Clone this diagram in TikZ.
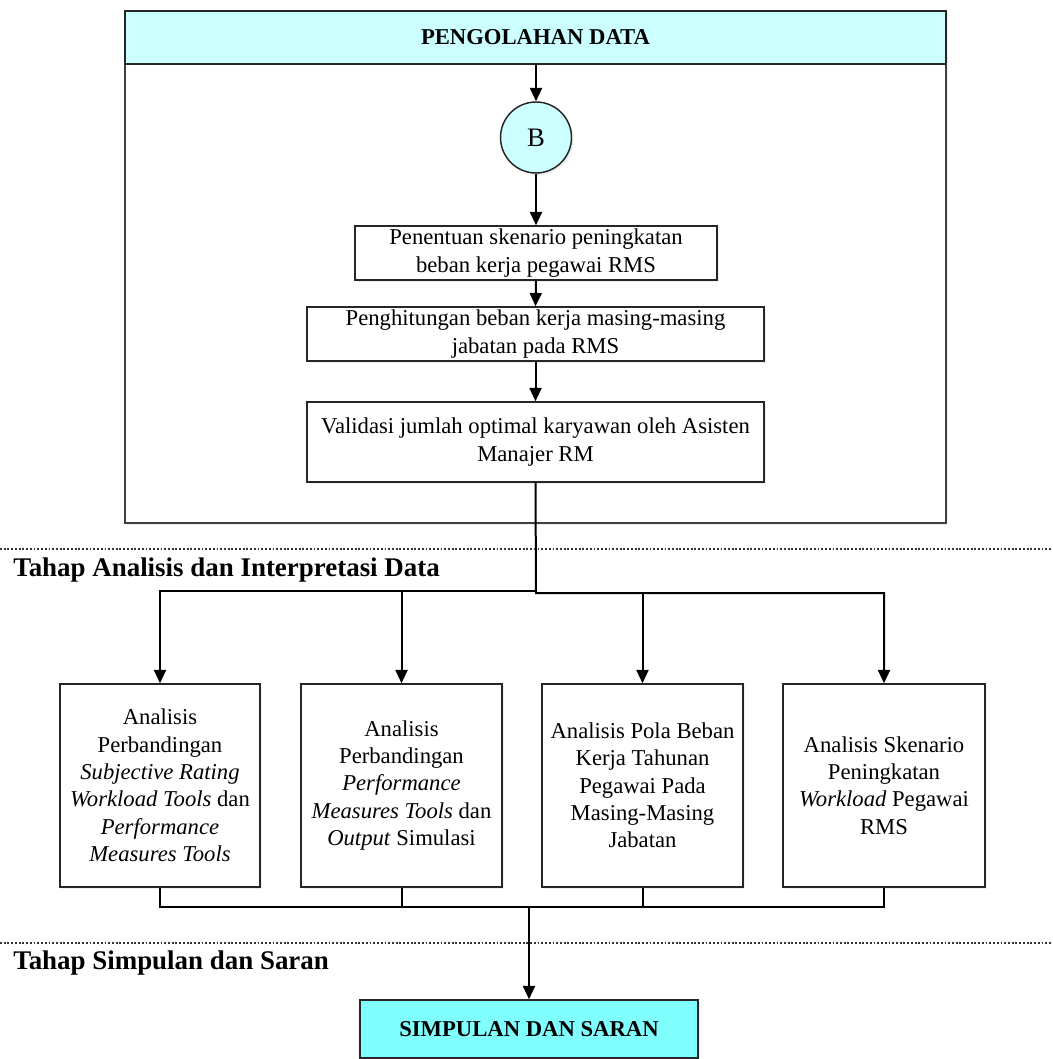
\documentclass[tikz,border=0pt]{standalone}
\usepackage{fontspec}
\setmainfont{Liberation Serif}
\usetikzlibrary{arrows.meta,shadows}
\definecolor{lightcyan}{HTML}{CCFFFF}
\definecolor{brightcyan}{HTML}{80FFFF}
\newcommand\pxu{0.75pt}
\newcommand\boxfont{\fontsize{17pt}{20.5pt}\selectfont}
\newcommand\titlefont{\fontsize{17pt}{20pt}\selectfont\bfseries}
\newcommand\stagefont{\fontsize{20.2pt}{24pt}\selectfont\bfseries}
\newcommand\circfont{\fontsize{20pt}{24pt}\selectfont}
\tikzset{
  x=0.75pt, y=-0.75pt,
  softshadow/.style={drop shadow={opacity=0.13, shadow xshift=1.5pt, shadow yshift=-1.5pt}},
  procbox/.style={draw=black!85, line width=1.1pt, fill=white, softshadow, align=center,
    font=\boxfont, inner sep=0pt},
  framebox/.style={draw=black!75, line width=1.1pt, inner sep=0pt, softshadow, fill=white},
  headband/.style={draw=black!85, line width=1.1pt, fill=lightcyan, inner sep=0pt, font=\titlefont},
  conn/.style={draw=black, line width=1.5pt},
  arr/.style={conn, -{Triangle[length=10pt,width=9pt]}},
  sep/.style={draw=black!80, line width=1.2pt, dash pattern=on 1.4pt off 1.4pt},
  stagelabel/.style={anchor=west, inner sep=0pt, font=\stagefont},
}
\begin{document}
\begin{tikzpicture}
\useasboundingbox (0,0) rectangle (1052,1059);
% container frame and its header band
\node[framebox, minimum width=821*\pxu, minimum height=512*\pxu] (frame) at (535.5,267) {};
\node[headband, minimum width=821*\pxu, minimum height=53*\pxu] (head) at (535.5,37.5) {PENGOLAHAN DATA};
% connector circle
\node[circle, draw=black!85, line width=1.1pt, fill=lightcyan, minimum size=71*\pxu, inner sep=0pt,
  softshadow, font=\circfont] (B) at (536,137.5) {B};
% process boxes inside frame
\node[procbox, minimum width=362*\pxu, minimum height=54*\pxu] (p1) at (536,253)
  {Penentuan skenario peningkatan\\beban kerja pegawai RMS};
\node[procbox, minimum width=457*\pxu, minimum height=54*\pxu] (p2) at (535.5,334)
  {Penghitungan beban kerja masing-masing\\jabatan pada RMS};
\node[procbox, minimum width=457*\pxu, minimum height=80*\pxu] (p3) at (535.5,442)
  {Validasi jumlah optimal karyawan oleh Asisten\\Manajer RM};
% separators and stage labels
\draw[sep] (0,549) -- (1052,549);
\node[stagelabel] (lab1) at (13,570) {Tahap Analisis dan Interpretasi Data};
\draw[sep] (0,943) -- (1052,943);
\node[stagelabel] (lab2) at (13,963) {Tahap Simpulan dan Saran};
% analysis boxes
\node[procbox, minimum width=200*\pxu, minimum height=203*\pxu] (a) at (160,785.5)
  {Analisis\\Perbandingan\\\textit{Subjective Rating}\\\textit{Workload Tools} dan\\\textit{Performance}\\\textit{Measures Tools}};
\node[procbox, minimum width=201*\pxu, minimum height=203*\pxu] (b) at (401.5,785.5)
  {Analisis\\Perbandingan\\\textit{Performance}\\\textit{Measures Tools} dan\\\textit{Output} Simulasi};
\node[procbox, minimum width=201*\pxu, minimum height=203*\pxu] (c) at (642.5,785.5)
  {Analisis Pola Beban\\Kerja Tahunan\\Pegawai Pada\\Masing-Masing\\Jabatan};
\node[procbox, minimum width=202*\pxu, minimum height=203*\pxu] (d) at (884,785.5)
  {Analisis Skenario\\Peningkatan\\\textit{Workload} Pegawai\\RMS};
% final box
\node[procbox, fill=brightcyan, font=\titlefont, minimum width=338*\pxu, minimum height=58*\pxu] (s) at (529,1029)
  {SIMPULAN DAN SARAN};
% connectors inside frame
\draw[arr] (head.south -| B.north) -- (B.north);
\draw[arr] (B.south) -- (p1.north);
\draw[arr] (p1.south) -- (p2.north);
\draw[arr] (p2.south) -- (p3.north);
% split to analysis boxes
\coordinate (jl) at (536,591);
\coordinate (jr) at (536,593);
\draw[arr] (p3.south) -- (jr) -| (d.north);
\draw[arr] (jl) -| (a.north);
\draw[arr] (b.north |- jl) -- (b.north);
\draw[arr] (c.north |- jr) -- (c.north);
% merge to conclusion
\coordinate (ml) at (160,907);
\coordinate (mj) at (529,907);
\draw[conn] (a.south) -- (a.south |- ml) -- (d.south |- ml) -- (d.south);
\draw[conn] (b.south) -- (b.south |- ml);
\draw[conn] (c.south) -- (c.south |- ml);
\draw[arr] (mj) -- (s.north);
\end{tikzpicture}
\end{document}
